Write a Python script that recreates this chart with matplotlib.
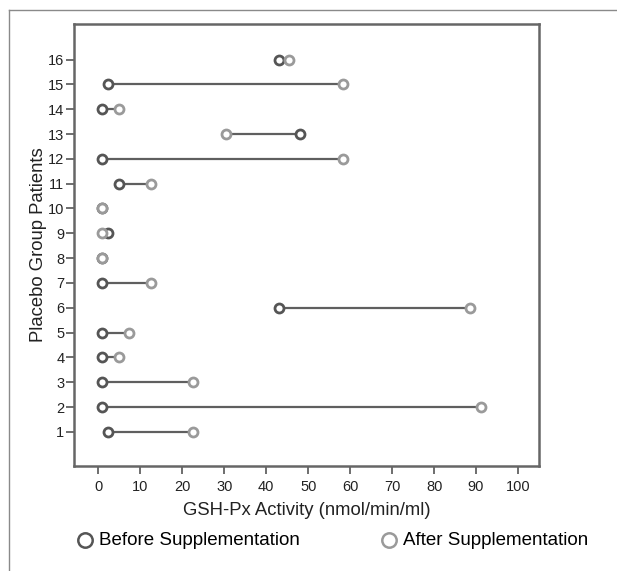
import matplotlib
matplotlib.use("Agg")
import matplotlib.pyplot as plt
from matplotlib.lines import Line2D

# data
patients = list(range(1, 17))
before = [2.3, 0.8, 0.8, 0.8, 0.8, 43.0, 0.8, 0.8, 2.3, 0.8, 4.9, 0.8, 48.1, 0.8, 2.3, 43.0]
after = [22.6, 91.2, 22.6, 4.9, 7.4, 88.6, 12.6, 0.8, 0.8, 0.8, 12.6, 58.2, 30.3, 4.9, 58.2, 45.4]
x_ticks = list(range(0, 101, 10))

plt.rcParams['font.family'] = ['Liberation Sans', 'DejaVu Sans']

W, H = 617, 571
fig = plt.figure(figsize=(W / 100, H / 100), dpi=100)
fig.patch.set_facecolor('white')

# axes placed in pixel terms
left, right, top, bottom = 74, 539, 24, 466
ax = fig.add_axes([left / W, 1 - bottom / H, (right - left) / W, (bottom - top) / H])

spine_col = '#666666'
ax.hlines(patients, before, after, color='#5f5f5f', lw=1.6, zorder=2)
h_before = ax.scatter(before, patients, s=42, facecolor='white', edgecolor='#555555',
                      linewidth=2.0, zorder=3, label='Before Supplementation')
h_after = ax.scatter(after, patients, s=42, facecolor='white', edgecolor='#9a9a9a',
                     linewidth=2.0, zorder=4, label='After Supplementation')

ax.set_xlim(-5.8, 105.0)
ax.set_ylim(-0.37, 17.43)
ax.set_xticks(x_ticks)
ax.set_yticks(patients)

for s in ax.spines.values():
    s.set_color(spine_col)
    s.set_linewidth(1.8)

ax.tick_params(axis='both', colors='#555555', labelcolor='#222222', labelsize=10.5,
               length=6, width=1.2, direction='out')
ax.tick_params(axis='y', pad=1)
ax.tick_params(axis='x', pad=4)

ax.set_xlabel('GSH-Px Activity (nmol/min/ml)', fontsize=13.3, color='#222222', labelpad=6)
ax.set_ylabel('Placebo Group Patients', fontsize=13.3, color='#222222', labelpad=1)

leg = fig.legend(handles=[h_before, h_after],
                 labels=['Before Supplementation', 'After Supplementation'],
                 loc='center left', bbox_to_anchor=(66 / W, 1 - 540 / H), ncol=2,
                 frameon=False, fontsize=13.5, handletextpad=0.25, columnspacing=4.25,
                 markerscale=1.6, handlelength=1.0, borderpad=0)
for hd in leg.legend_handles:
    hd.set_linewidth(1.8)

# thin outer frame (left and top edges)
frame_col = '#8a8a8a'
fig.add_artist(Line2D([9 / W, 9 / W], [0, 1 - 10 / H], transform=fig.transFigure,
                      color=frame_col, lw=1.0))
fig.add_artist(Line2D([9 / W, 1], [1 - 10 / H, 1 - 10 / H], transform=fig.transFigure,
                      color=frame_col, lw=1.0))

fig.savefig('out.png', dpi=100, facecolor='white')
